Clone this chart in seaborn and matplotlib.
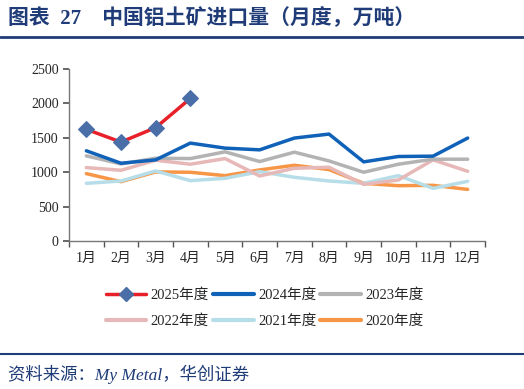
import numpy as np
import pandas as pd
import matplotlib
matplotlib.use("Agg")
import matplotlib.pyplot as plt
from matplotlib.lines import Line2D
import seaborn as sns

sns.set_theme(style="white")
plt.rcParams["font.family"] = ["Liberation Serif", "Noto Sans CJK SC"]

NAVY = "#1F3C78"

months = ["1月", "2月", "3月", "4月", "5月", "6月", "7月", "8月", "9月", "10月", "11月", "12月"]

y2025 = [1623, 1438, 1648, 2072]
y2024 = [1311, 1130, 1179, 1423, 1350, 1325, 1496, 1554, 1150, 1228, 1233, 1496]
y2023 = [1237, 1120, 1203, 1198, 1296, 1155, 1291, 1164, 999, 1116, 1189, 1189]
y2022 = [1067, 1028, 1174, 1116, 1198, 945, 1057, 1072, 823, 887, 1179, 1013]
y2021 = [838, 872, 1018, 877, 911, 1008, 926, 872, 838, 950, 765, 867]
y2020 = [979, 862, 1004, 999, 950, 1033, 1101, 1038, 838, 804, 809, 750]

series = [
    ("2020年度", y2020, "#F79646"),
    ("2021年度", y2021, "#B7DEE8"),
    ("2022年度", y2022, "#E6B8B7"),
    ("2023年度", y2023, "#B3B3B3"),
    ("2024年度", y2024, "#0F62B8"),
    ("2025年度", y2025, "#E8202A"),
]

fig = plt.figure(figsize=(5.24, 3.89), dpi=100)
ax = fig.add_axes([0.1317, 0.3805, 0.7939, 0.4421])

handles = {}
for name, vals, color in series:
    x = np.arange(len(vals))
    if name == "2025年度":
        sns.lineplot(x=x, y=vals, ax=ax, color=color, linewidth=2.5,
                     marker="D", markersize=8, markerfacecolor="#4A6FA8",
                     markeredgecolor="#4A6FA8")
        handles[name] = Line2D([], [], color=color, linewidth=2.5, marker="D",
                               markersize=7, markerfacecolor="#4A6FA8",
                               markeredgecolor="#4A6FA8")
    else:
        sns.lineplot(x=x, y=vals, ax=ax, color=color, linewidth=2.5)
        handles[name] = Line2D([], [], color=color, linewidth=3)

ax.set_xlim(-0.5, 11.5)
ax.set_ylim(0, 2500)
ax.set_yticks(range(0, 2501, 500))
ax.set_xticks(range(12))
ax.set_xticklabels(months)
ax.set_xticks(np.arange(-0.5, 12, 1), minor=True)
ax.tick_params(axis="x", which="major", length=0, labelsize=10, pad=8)
ax.tick_params(axis="x", which="minor", length=4, direction="out", color="#555555", bottom=True)
ax.tick_params(axis="y", length=4, direction="out", color="#555555", left=True, labelsize=10)
ax.set_xlabel("")
ax.set_ylabel("")
for s in ["top", "right"]:
    ax.spines[s].set_visible(False)
for s in ["left", "bottom"]:
    ax.spines[s].set_color("#777777")
    ax.spines[s].set_linewidth(1)

order = ["2025年度", "2022年度", "2024年度", "2021年度", "2023年度", "2020年度"]
fig.legend([handles[k] for k in order], order, ncol=3, loc="center",
           bbox_to_anchor=(0.505, 0.207), frameon=False, fontsize=10.5,
           handlelength=2.8, handletextpad=0.3, columnspacing=0.25,
           labelspacing=0.85)

fig.text(0.015, 0.953, "图表  27    中国铝土矿进口量（月度，万吨）", color=NAVY,
         fontsize=15, fontweight="bold", va="center", ha="left")
fig.add_artist(Line2D([0.0, 1.0], [0.905, 0.905], color=NAVY, linewidth=2))
fig.add_artist(Line2D([0.0, 1.0], [0.09, 0.09], color=NAVY, linewidth=1.5))
fig.text(0.015, 0.038, "资料来源：My Metal，华创证券", color=NAVY, fontsize=12.5,
         style="italic", va="center", ha="left")

fig.savefig("out.png", dpi=100)
